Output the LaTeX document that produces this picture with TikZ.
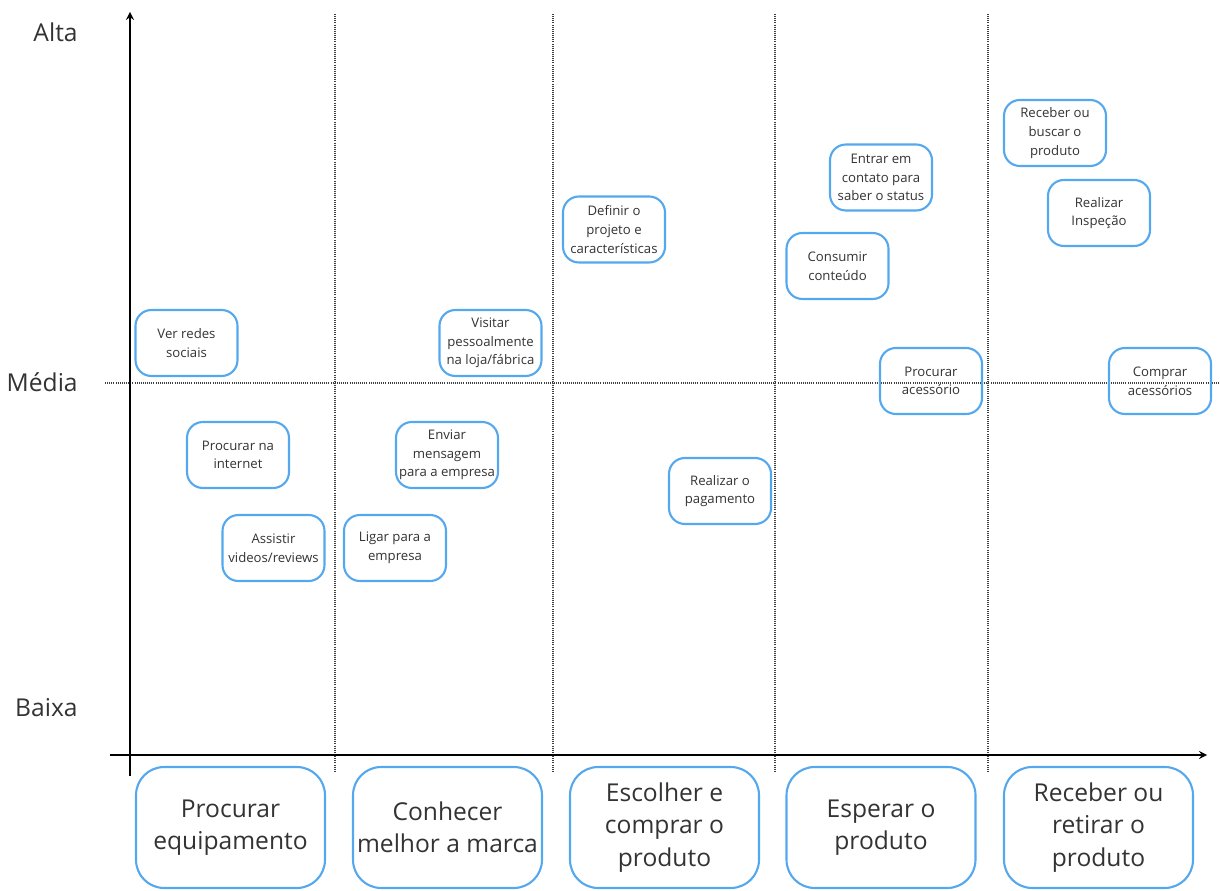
\documentclass[tikz,border=0pt]{standalone}
\usepackage{fontspec}
\setmainfont{Open Sans}
\definecolor{caixa}{HTML}{55A8EE}
\definecolor{texto}{HTML}{333333}
\tikzset{
	etapa/.style={draw=caixa,line width=1.2pt,rounded corners=9pt,align=center,text=texto,
		minimum width=2.04cm,minimum height=1.32cm,inner sep=1pt,font=\fontsize{7.5}{10.6}\selectfont},
	fase/.style={draw=caixa,line width=1.2pt,rounded corners=16pt,align=center,text=texto,
		minimum width=3.78cm,minimum height=2.42cm,inner sep=1pt,font=\fontsize{14}{18.5}\selectfont},
	nivel/.style={anchor=east,inner sep=0pt,text=texto,font=\fontsize{14}{16}\selectfont},
	grade/.style={line width=0.8pt,black!75,dash pattern=on 0.5pt off 0.7pt}
}
\begin{document}
\begin{tikzpicture}[>=stealth,line join=round,x=0.02cm,y=-0.02cm]
		\useasboundingbox (0,0) rectangle (1220,891);
		% linhas de grade
		\draw[grade] (105,383)--(1220,383);
		\foreach \xg in {335,553,775,988}
		\draw[grade] (\xg,14)--(\xg,772);
		% eixos
		\draw[->,line width=1pt] (130,776)--(130,12);
		\draw[->,line width=1pt] (110,755)--(1207,755);
		\node[nivel] (alta) at (78,32) {Alta};
		\node[nivel] (media) at (78,382) {Média};
		\node[nivel] (baixa) at (78,708) {Baixa};
		% fases
		\node[fase] (f1) at (230.5,827.5) {Procurar\\equipamento};
		\node[fase] (f2) at (447.5,827.5) {Conhecer\\melhor a marca};
		\node[fase] (f3) at (664.5,827.5) {Escolher e\\comprar o\\produto};
		\node[fase] (f4) at (881,827.5) {Esperar o\\produto};
		\node[fase] (f5) at (1098.5,827.5) {Receber ou\\retirar o\\produto};
		% etapas
		\node[etapa] (redes) at (186.5,343) {Ver redes\\sociais};
		\node[etapa] (internet) at (238,455) {Procurar na\\internet};
		\node[etapa] (videos) at (273.5,548) {Assistir\\videos/reviews};
		\node[etapa] (visitar) at (490.5,343) {Visitar\\pessoalmente\\na loja/fábrica};
		\node[etapa] (mensagem) at (447,455) {Enviar\\mensagem\\para a empresa};
		\node[etapa] (ligar) at (395,548) {Ligar para a\\empresa};
		\node[etapa] (definir) at (614,229.5) {Definir o\\projeto e\\características};
		\node[etapa] (pagamento) at (720,491) {Realizar o\\pagamento};
		\node[etapa] (contato) at (881,177.5) {Entrar em\\contato para\\saber o status};
		\node[etapa] (conteudo) at (837.5,266) {Consumir\\conteúdo};
		\node[etapa] (acessorio) at (931,381) {Procurar\\acessório};
		\node[etapa] (buscar) at (1055,133) {Receber ou\\buscar o\\produto};
		\node[etapa] (inspecao) at (1099,213) {Realizar\\Inspeção};
		\node[etapa] (acessorios) at (1160,381) {Comprar\\acessórios};
\end{tikzpicture}
\end{document}
